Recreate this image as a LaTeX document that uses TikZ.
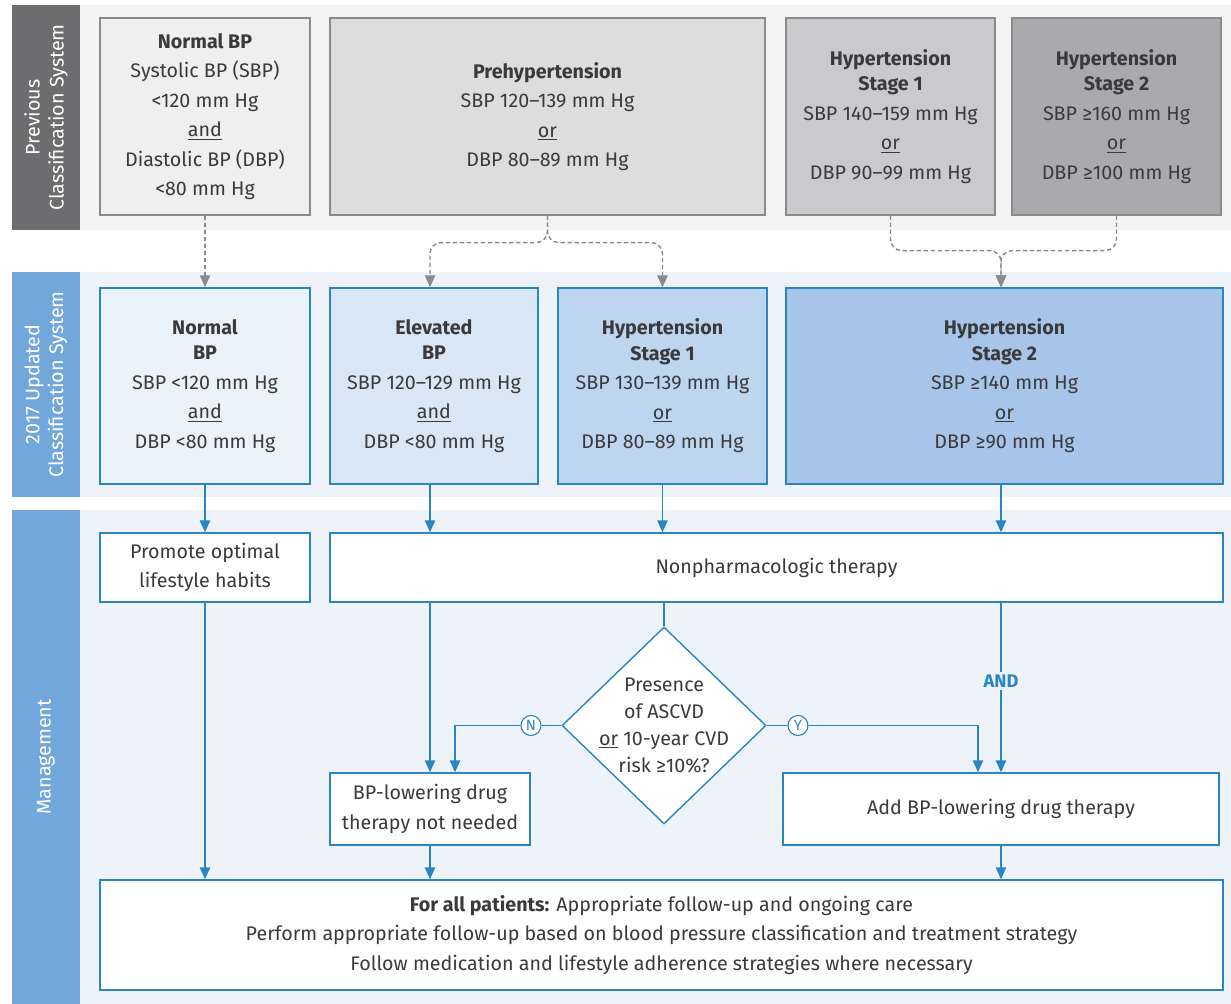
\documentclass[tikz,border=0pt]{standalone}
\usepackage{fontspec}
\setmainfont{Fira Sans}
\usetikzlibrary{arrows.meta,shapes.geometric}
\definecolor{ink}{HTML}{3A3A3C}
\definecolor{greyband}{HTML}{F3F3F4}
\definecolor{greystrip}{HTML}{6D6D6F}
\definecolor{greyline}{HTML}{8A8A8C}
\definecolor{grey1}{HTML}{EFEFF0}
\definecolor{grey2}{HTML}{DDDDDE}
\definecolor{grey3}{HTML}{CACACC}
\definecolor{grey4}{HTML}{AAAAAC}
\definecolor{blueband}{HTML}{EEF3FA}
\definecolor{bluestrip}{HTML}{72A7DB}
\definecolor{blueline}{HTML}{2A86C2}
\definecolor{blue1}{HTML}{EAF2FB}
\definecolor{blue2}{HTML}{D8E6F5}
\definecolor{blue3}{HTML}{BED5EF}
\definecolor{blue4}{HTML}{A6C5E9}

\tikzset{
  boxsize/.style 2 args={minimum width=#1*0.025cm, minimum height=#2*0.025cm},
  boxtext/.style={align=center, text=ink, inner sep=0pt, font=\fontsize{14}{21}\selectfont},
  oldbox/.style={boxtext, draw=greyline, line width=0.8pt},
  newbox/.style={boxtext, draw=blueline, line width=1pt},
  mgmtbox/.style={newbox, fill=white},
  strip/.style={rotate=90, text=white, align=center, inner sep=0pt, font=\fontsize{14}{17}\selectfont},
  oldarrow/.style={draw=greyline, line width=1pt, dash pattern=on 3pt off 2pt, rounded corners=8pt, -{Triangle[length=3mm,width=2.6mm]}},
  flow/.style={draw=blueline, line width=1pt, -{Triangle[length=3mm,width=2.6mm]}},
  yesno/.style={circle, draw=blueline, fill=white, line width=0.8pt, text=blueline, inner sep=0pt, minimum size=0.5cm, font=\fontsize{10.5}{10.5}\selectfont}
}

\begin{document}
\begin{tikzpicture}[x=0.025cm, y=-0.025cm]
\useasboundingbox (0,0) rectangle (1231,1004);
\fill[white] (0,0) rectangle (1231,1004);
\fill[greyband] (80,5) rectangle (1231,230);
\fill[blueband] (80,272) rectangle (1231,497);
\fill[blueband] (80,510) rectangle (1231,1004);
\node[strip, fill=greystrip, boxsize={225}{68}] (s1) at (46,117.5) {Previous\\Classification System};
\node[strip, fill=bluestrip, boxsize={225}{68}] (s2) at (46,384.5) {2017 Updated\\Classification System};
\node[strip, fill=bluestrip, boxsize={494}{68}] (s3) at (46,757) {Management};

\node[oldbox, fill=grey1, boxsize={210}{197}] (p1) at (205,116.5) {\textbf{Normal BP}\\Systolic BP (SBP)\\<120 mm Hg\\\underline{and}\\Diastolic BP (DBP)\\<80 mm Hg};
\node[oldbox, fill=grey2, boxsize={435}{197}] (p2) at (547.5,116.5) {\textbf{Prehypertension}\\SBP 120–139 mm Hg\\\underline{or}\\DBP 80–89 mm Hg};
\node[oldbox, fill=grey3, boxsize={209}{197}] (p3) at (890.5,116.5) {\textbf{Hypertension}\\[-3pt]\textbf{Stage 1}\\SBP 140–159 mm Hg\\\underline{or}\\DBP 90–99 mm Hg};
\node[oldbox, fill=grey4, boxsize={209}{197}] (p4) at (1116.5,116.5) {\textbf{Hypertension}\\[-3pt]\textbf{Stage 2}\\SBP ≥160 mm Hg\\\underline{or}\\DBP ≥100 mm Hg};

\node[newbox, fill=blue1, boxsize={210}{196}] (n1) at (205,386) {\textbf{Normal}\\[-3pt]\textbf{BP}\\SBP <120 mm Hg\\\underline{and}\\DBP <80 mm Hg};
\node[newbox, fill=blue2, boxsize={208}{196}] (n2) at (434,386) {\textbf{Elevated}\\[-3pt]\textbf{BP}\\SBP 120–129 mm Hg\\\underline{and}\\DBP <80 mm Hg};
\node[newbox, fill=blue3, boxsize={209}{196}] (n3) at (662.5,386) {\textbf{Hypertension}\\[-3pt]\textbf{Stage 1}\\SBP 130–139 mm Hg\\\underline{or}\\DBP 80–89 mm Hg};
\node[newbox, fill=blue4, boxsize={437}{196}] (n4) at (1004.5,386) {\textbf{Hypertension}\\[-3pt]\textbf{Stage 2}\\SBP ≥140 mm Hg\\\underline{or}\\DBP ≥90 mm Hg};

\node[mgmtbox, boxsize={210}{69}] (m1) at (205,567.5) {Promote optimal\\lifestyle habits};
\node[mgmtbox, boxsize={893}{69}] (m2) at (776.5,567.5) {Nonpharmacologic therapy};
\node[diamond, draw=blueline, line width=1pt, fill=white, inner sep=0pt, boxsize={204}{197},
  label={[boxtext, font=\fontsize{14}{19}\selectfont]center:Presence\\of ASCVD\\\underline{or} 10-year CVD\\risk ≥10\%?}] (dia) at (664,725.5) {};
\node[mgmtbox, boxsize={200}{72}] (m3) at (430,809) {BP-lowering drug\\therapy not needed};
\node[mgmtbox, boxsize={436}{72}] (m4) at (1001,809) {Add BP-lowering drug therapy};
\node[mgmtbox, boxsize={1123}{110}] (m5) at (661.5,935) {\textbf{For all patients:} Appropriate follow-up and ongoing care\\Perform appropriate follow-up based on blood pressure classification and treatment strategy\\Follow medication and lifestyle adherence strategies where necessary};
\node[yesno] (no) at (531,725.5) {N};
\node[yesno] (yes) at (798,725.5) {Y};

\draw[oldarrow] (p1.south) -- (n1.north);
\draw[oldarrow] (p2.south) -- ++(0,27) -| (m3.north |- n2.north);
\draw[oldarrow] (p2.south) -- ++(0,27) -| (n3.north);
\draw[oldarrow] (p3.south) -- ++(0,35) -| (m4.north |- n4.north);
\draw[oldarrow] (p4.south) -- ++(0,35) -| (m4.north |- n4.north);

\draw[flow] (n1.south) -- (m1.north);
\draw[flow] (m3.north |- n2.south) -- (m3.north |- m2.north);
\draw[flow] (n3.south) -- (n3.south |- m2.north);
\draw[flow] (m4.north |- n4.south) -- (m4.north |- m2.north);
\draw[flow] (m1.south) -- (m1.south |- m5.north);
\draw[flow] (m3.north |- m2.south) -- (m3.north);
\draw[draw=blueline, line width=1pt] (dia.north |- m2.south) -- (dia.north);
\draw[flow] (m4.north |- m2.south) -- node[pos=0.46, fill=blueband, text=blueline, inner sep=2pt, font=\fontsize{13}{13}\selectfont\bfseries] {AND} (m4.north);
\draw[draw=blueline, line width=1pt] (dia.west) -- (no);
\draw[flow] (no) -| ([xshift=0.625cm]m3.north);
\draw[draw=blueline, line width=1pt] (dia.east) -- (yes);
\draw[flow] (yes) -| ([xshift=-0.575cm]m4.north);
\draw[flow] (m3.south) -- (m3.south |- m5.north);
\draw[flow] (m4.south) -- (m4.south |- m5.north);
\end{tikzpicture}
\end{document}
